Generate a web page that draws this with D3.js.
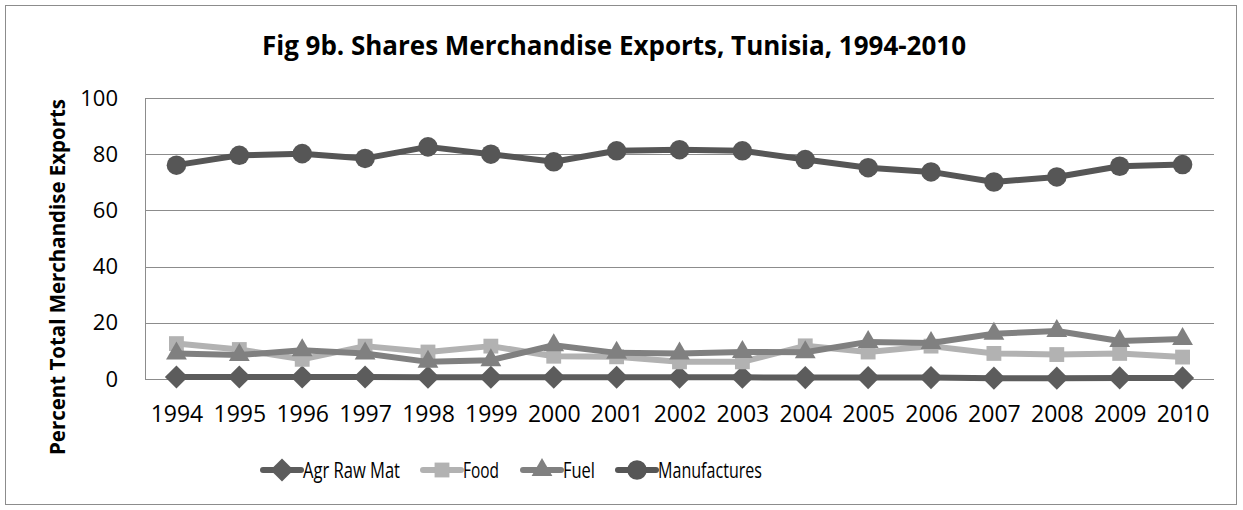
<!DOCTYPE html>
<html>
<head>
<meta charset="utf-8">
<script src="https://cdn.jsdelivr.net/npm/d3@7"></script>
<style>
  body { margin: 0; background: #fff; }
</style>
</head>
<body>
<div id="chart"></div>
<script>
// data
var years = [1994, 1995, 1996, 1997, 1998, 1999, 2000, 2001, 2002, 2003, 2004, 2005, 2006, 2007, 2008, 2009, 2010];
var agrRawMat = [0.7, 0.7, 0.7, 0.7, 0.6, 0.6, 0.6, 0.6, 0.6, 0.6, 0.5, 0.5, 0.5, 0.3, 0.3, 0.4, 0.4];
var food = [12.6, 10.5, 7.0, 11.7, 9.6, 11.7, 8.1, 7.9, 6.1, 6.1, 11.8, 9.6, 11.7, 9.1, 8.7, 9.1, 7.8];
var fuel = [9.1, 8.5, 10.2, 9.1, 6.1, 6.7, 12.0, 9.3, 9.1, 9.6, 9.5, 13.2, 12.8, 16.1, 17.1, 13.5, 14.2];
var manufactures = [76.1, 79.6, 80.2, 78.5, 82.6, 80.0, 77.3, 81.2, 81.6, 81.2, 78.1, 75.2, 73.7, 70.1, 71.9, 75.7, 76.3];
var yTicks = [0, 20, 40, 60, 80, 100];

var series = [
  {name: "Agr Raw Mat", values: agrRawMat, color: "#5c5c5c", symbol: d3.symbolDiamond2, size: 340, textW: 97},
  {name: "Food", values: food, color: "#b2b2b2", symbol: d3.symbolSquare2, size: 280, textW: 36},
  {name: "Fuel", values: fuel, color: "#808080", symbol: d3.symbolTriangle2, size: 310, textW: 32},
  {name: "Manufactures", values: manufactures, color: "#565656", symbol: d3.symbolCircle, size: 300, textW: 104}
];

var W = 1243, H = 510;
var margin = {top: 98, right: 29, bottom: 131, left: 145};
var width = W - margin.left - margin.right,
    height = H - margin.top - margin.bottom;

var font = "'Open Sans', sans-serif";

var svg = d3.select("#chart").append("svg")
    .attr("width", W)
    .attr("height", H);

// outer chart border
svg.append("rect")
    .attr("x", 5.5).attr("y", 5.5)
    .attr("width", W - 12).attr("height", H - 11)
    .attr("fill", "#fff")
    .attr("stroke", "#8c8c8c")
    .attr("stroke-width", 1);

// title
svg.append("text")
    .attr("x", 614).attr("y", 55)
    .attr("text-anchor", "middle")
    .attr("textLength", 704)
    .attr("lengthAdjust", "spacingAndGlyphs")
    .style("font-family", font)
    .style("font-weight", "bold")
    .style("font-size", "26px")
    .text("Fig 9b. Shares Merchandise Exports, Tunisia, 1994-2010");

var g = svg.append("g")
    .attr("transform", "translate(" + margin.left + "," + margin.top + ")");

var xScale = d3.scalePoint().domain(years).range([0, width]).padding(0.5);
var yScale = d3.scaleLinear().domain([0, 100]).range([height, 0]);

// gridlines
g.selectAll(".grid")
  .data(yTicks)
  .enter().append("line")
    .attr("x1", 0).attr("x2", width)
    .attr("y1", function(d) { return Math.round(yScale(d)) + 0.5; })
    .attr("y2", function(d) { return Math.round(yScale(d)) + 0.5; })
    .attr("stroke", "#8c8c8c")
    .attr("stroke-width", 1);

// left axis line
g.append("line")
    .attr("x1", 0.5).attr("x2", 0.5)
    .attr("y1", yScale(100)).attr("y2", yScale(0))
    .attr("stroke", "#8c8c8c");

// Y axis
var yAxis = g.append("g")
    .call(d3.axisLeft(yScale).tickValues(yTicks).tickSize(0).tickPadding(27));
yAxis.select(".domain").remove();
yAxis.selectAll("text")
    .style("font-family", font)
    .style("font-size", "22px")
    .attr("fill", "#000");

// X axis
var xAxis = g.append("g")
    .attr("transform", "translate(0," + height + ")")
    .call(d3.axisBottom(xScale).tickSize(0).tickPadding(27));
xAxis.select(".domain").remove();
xAxis.selectAll("text")
    .style("font-family", font)
    .style("font-size", "23px")
    .attr("fill", "#000");

// y axis title
svg.append("text")
    .attr("transform", "translate(65,277) rotate(-90)")
    .attr("text-anchor", "middle")
    .attr("textLength", 356)
    .attr("lengthAdjust", "spacingAndGlyphs")
    .style("font-family", font)
    .style("font-weight", "bold")
    .style("font-size", "22px")
    .text("Percent Total Merchandise Exports");

// lines and markers
var line = d3.line()
    .x(function(d, i) { return xScale(years[i]); })
    .y(function(d) { return yScale(d); });

series.forEach(function(s) {
  g.append("path")
      .datum(s.values)
      .attr("fill", "none")
      .attr("stroke", s.color)
      .attr("stroke-width", 6)
      .attr("stroke-linejoin", "round")
      .attr("d", line);

  g.selectAll(null)
    .data(s.values)
    .enter().append("path")
      .attr("transform", function(d, i) {
        return "translate(" + xScale(years[i]) + "," + yScale(d) + ")";
      })
      .attr("d", d3.symbol().type(s.symbol).size(s.size))
      .attr("fill", s.color);
});

// legend
var legendX = [282, 442, 542, 637];
var legend = svg.append("g").attr("transform", "translate(0,470)");
series.forEach(function(s, i) {
  var lg = legend.append("g").attr("transform", "translate(" + legendX[i] + ",0)");
  lg.append("line")
      .attr("x1", -19).attr("x2", 19)
      .attr("stroke", s.color)
      .attr("stroke-width", 6)
      .attr("stroke-linecap", "round");
  lg.append("path")
      .attr("d", d3.symbol().type(s.symbol).size(s.size))
      .attr("fill", s.color);
  lg.append("text")
      .attr("x", 21).attr("y", 0)
      .attr("dy", "0.35em")
      .attr("textLength", s.textW)
      .attr("lengthAdjust", "spacingAndGlyphs")
      .style("font-family", font)
      .style("font-size", "22px")
      .text(s.name);
});
</script>
</body>
</html>
